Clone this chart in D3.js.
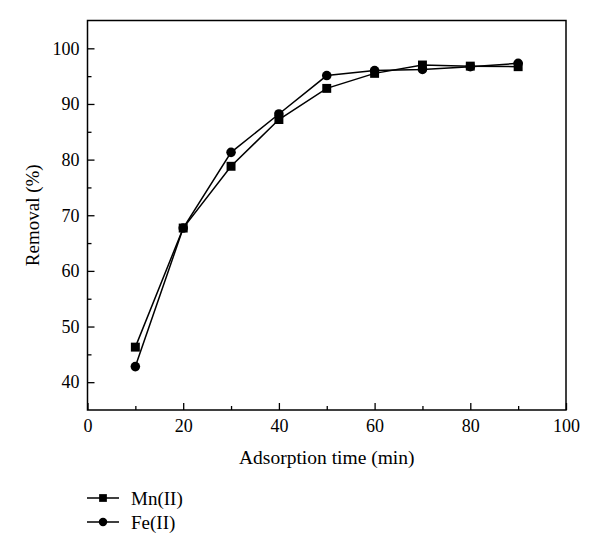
<!DOCTYPE html>
<html>
<head>
<meta charset="utf-8">
<script src="https://cdn.jsdelivr.net/npm/d3@7"></script>
<style>
  body { margin: 0; background: #fff; }
  svg text { font-family: "Liberation Serif", "DejaVu Serif", serif; fill: #000; }
</style>
</head>
<body>
<svg id="chart" width="600" height="554"></svg>
<script>
// adsorption time (min)
const times = [10, 20, 30, 40, 50, 60, 70, 80, 90];
// removal (%)
const mnRemoval = [46.3, 67.7, 78.8, 87.2, 92.8, 95.5, 97.0, 96.8, 96.7];
const feRemoval = [42.8, 67.7, 81.3, 88.2, 95.1, 96.0, 96.2, 96.7, 97.3];
const xTicks = [0, 20, 40, 60, 80, 100];
const yTicks = [40, 50, 60, 70, 80, 90, 100];
const seriesNames = ["Mn(II)", "Fe(II)"];

const svg = d3.select("#chart");
const margin = { left: 87.5, right: 34, top: 20.5, bottom: 144 };
const W = 600, H = 554;

const x = d3.scaleLinear().domain([0, 100]).range([margin.left, W - margin.right]);
const y = d3.scaleLinear().domain([35, 105]).range([H - margin.bottom, margin.top]);

// frame
svg.append("rect")
  .attr("x", x(0)).attr("y", y(105))
  .attr("width", x(100) - x(0)).attr("height", y(35) - y(105))
  .attr("fill", "none").attr("stroke", "#000").attr("stroke-width", 1.5);

// axes, ticks pointing inward
svg.append("g").attr("transform", `translate(0,${y(35)})`)
  .call(d3.axisBottom(x).tickValues(xTicks).tickSize(-7).tickPadding(9).tickFormat(d3.format("d")));
svg.append("g").attr("transform", `translate(0,${y(35)})`)
  .call(d3.axisBottom(x).tickValues([10, 30, 50, 70, 90]).tickSize(-4).tickFormat(""));

svg.append("g").attr("transform", `translate(${x(0)},0)`)
  .call(d3.axisLeft(y).tickValues(yTicks).tickSize(-7).tickPadding(8).tickFormat(d3.format("d")));
svg.append("g").attr("transform", `translate(${x(0)},0)`)
  .call(d3.axisLeft(y).tickValues([45, 55, 65, 75, 85, 95]).tickSize(-4).tickFormat(""));

svg.selectAll(".domain").remove();
svg.selectAll(".tick line").attr("stroke", "#000").attr("stroke-width", 1.3);
svg.selectAll(".tick text").attr("font-size", 18);

// axis titles
svg.append("text")
  .attr("x", (x(0) + x(100)) / 2).attr("y", 464)
  .attr("text-anchor", "middle").attr("font-size", 19.5)
  .text("Adsorption time (min)");

svg.append("text")
  .attr("transform", `translate(39,${(y(35) + y(105)) / 2}) rotate(-90)`)
  .attr("text-anchor", "middle").attr("font-size", 19)
  .text("Removal (%)");

const line = d3.line().x(d => x(d[0])).y(d => y(d[1]));
const mnData = times.map((t, i) => [t, mnRemoval[i]]);
const feData = times.map((t, i) => [t, feRemoval[i]]);

function drawSeries(data, shape) {
  svg.append("path").datum(data)
    .attr("d", line).attr("fill", "none")
    .attr("stroke", "#000").attr("stroke-width", 1.5);
  const sym = d3.symbol().type(shape).size(shape === d3.symbolSquare ? 80 : 72);
  svg.append("g").selectAll("path").data(data).join("path")
    .attr("transform", d => `translate(${x(d[0])},${y(d[1])})`)
    .attr("d", sym).attr("fill", "#000");
}
drawSeries(mnData, d3.symbolSquare);
drawSeries(feData, d3.symbolCircle);

// legend
const legend = svg.append("g");
const shapes = [d3.symbolSquare, d3.symbolCircle];
seriesNames.forEach((name, i) => {
  const ly = 498 + i * 24;
  legend.append("line")
    .attr("x1", 87).attr("x2", 119).attr("y1", ly).attr("y2", ly)
    .attr("stroke", "#000").attr("stroke-width", 1.5);
  legend.append("path")
    .attr("transform", `translate(103,${ly})`)
    .attr("d", d3.symbol().type(shapes[i]).size(shapes[i] === d3.symbolSquare ? 60 : 56))
    .attr("fill", "#000");
  legend.append("text")
    .attr("x", 131).attr("y", ly + 6.5).attr("font-size", 19)
    .text(name);
});
</script>
</body>
</html>
